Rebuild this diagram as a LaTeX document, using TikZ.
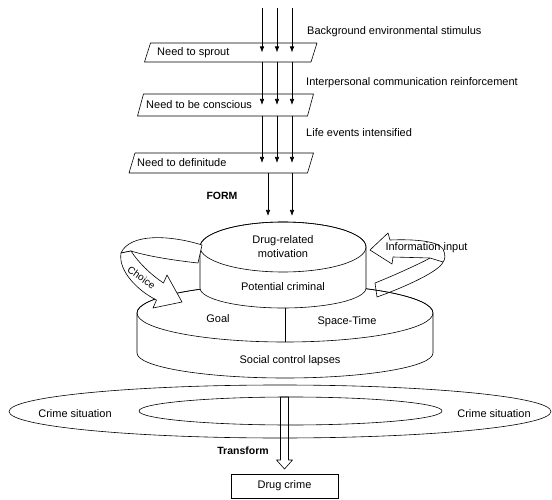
\documentclass[tikz,border=0pt]{standalone}
\usepackage{fontspec}
\setmainfont{Liberation Sans}
\usepackage{tikz}
\usetikzlibrary{shapes,positioning,calc,arrows.meta}

\tikzset{
  lbl/.style={font=\fontsize{11}{14}\selectfont, inner sep=0pt, align=center},
  boldlbl/.style={font=\fontsize{10.5}{12}\selectfont\bfseries, inner sep=0pt},
  flow/.style={-{Latex[length=6pt,width=4.5pt]}, line width=0.6pt},
  outline/.style={line width=0.6pt, line join=round},
  ribbon/.style={outline, fill=white},
}

\newcommand{\needBox}[4]{%
  % #1 the name of the node
  % #2 centre of the box
  % #3 width (e.g., 170pt)
  % #4 height (e.g., 20pt)
  \node[minimum width=#3, minimum height=#4, inner sep=0pt, outer sep=0pt] (#1) at #2 {};
  \draw[outline] ([xshift=3pt]#1.north west) -- ([xshift=3pt]#1.north east)
    -- ([xshift=-3pt]#1.south east) -- ([xshift=-3pt]#1.south west) -- cycle;
}

\begin{document}
\begin{tikzpicture}[x=1pt,y=1pt]
  \useasboundingbox (0,0) rectangle (552,499);

  % the needs, one under the other
  \needBox{sprout}{(230.75,446.5)}{166.5pt}{19pt}
  \needBox{conscious}{(225.5,394)}{170pt}{22pt}
  \needBox{definite}{(221.25,336)}{178.5pt}{20pt}
  \node[lbl, anchor=west] (sproutText) at ([xshift=9.5pt]sprout.west) {Need to sprout};
  \node[lbl, anchor=west] (consciousText) at ([xshift=5.5pt]conscious.west) {Need to be conscious};
  \node[lbl, anchor=west] (definiteText) at ([xshift=5pt]definite.west) {Need to definitude};

  \node[lbl, anchor=west] (stimulus) at (307,467) {Background environmental stimulus};
  \node[lbl, anchor=west] (reinforce) at (306,416) {Interpersonal communication reinforcement};
  \node[lbl, anchor=west] (events) at (306,366) {Life events intensified};

  \coordinate (in1) at (262,491);
  \coordinate (in2) at (277,491);
  \coordinate (in3) at (292,491);
  \foreach \c in {in1,in2,in3} {
    \draw[flow] (\c) -- (\c |- sprout.center);
    \draw[flow] (\c |- sprout.south) -- (\c |- conscious.center);
    \draw[flow] (\c |- conscious.south) -- (\c |- definite.center);
  }

  \node[boldlbl] (form) at (222,303) {FORM};
  \coordinate (form1) at (268,283);
  \coordinate (form2) at (292,283);
  \draw[flow] (form1 |- definite.south) -- (form1);
  \draw[flow] (form2 |- definite.south) -- (form2);

  % social control layer
  \filldraw[outline, fill=white] (137,186) -- (137,146)
    arc[start angle=180, end angle=360, x radius=148, y radius=25]
    -- (433,186) arc[start angle=0, end angle=180, x radius=148, y radius=29] -- cycle;
  \draw[outline] (285,186) ellipse [x radius=148, y radius=29];

  % motivation layer
  \filldraw[outline, fill=white] (200,252) -- (200,211)
    arc[start angle=180, end angle=360, x radius=83, y radius=20]
    -- (366,252) arc[start angle=0, end angle=180, x radius=83, y radius=25] -- cycle;
  \draw[outline] (283,252) ellipse [x radius=83, y radius=25];
  \draw[outline] (285,191) -- (285,157);

  \node[lbl] (motive) at (283,252.5) {Drug-related\\motivation};
  \node[lbl] (potential) at (283,212) {Potential criminal};
  \node[lbl] (goal) at (218,180) {Goal};
  \node[lbl] (spacetime) at (347,177) {Space-Time};
  \node[lbl] (lapses) at (290,138) {Social control lapses};

  % choice ribbon (left)
  \draw[ribbon] (202,254) .. controls (170,264) and (130,266) .. (121,246)
    -- (131,248) .. controls (150,242) and (180,238) .. (198,236) -- cycle;
  \draw[ribbon] (121,246) .. controls (118,228) and (138,208) .. (156.5,199)
    -- (153,191) -- (182,197) -- (167,224) -- (163.5,216)
    .. controls (150,225) and (138,237) .. (131,248) -- cycle;
  \node[lbl, font=\fontsize{10}{12}\selectfont, rotate=-35] (choice) at (141.5,221.5) {Choice};

  % information ribbon (right)
  \draw[outline] (443,237) .. controls (440,228) and (405,212) .. (377,202)
    -- (375,216) .. controls (400,226) and (425,238) .. (430,241);
  \draw[ribbon] (370,249) -- (388,266) -- (390,259)
    .. controls (415,260) and (438,258) .. (443,250)
    .. controls (446,244) and (445,239) .. (443,237)
    -- (430,241) -- (393,242) -- (392,235) -- cycle;
  \node[lbl] (info) at (426.5,251) {Information input};

  % crime situation
  \node[ellipse, draw, line width=0.6pt, minimum width=542pt, minimum height=53pt,
    inner sep=0pt, outer sep=0pt] (outer) at (280,87.5) {};
  \node[ellipse, draw, line width=0.6pt, minimum width=303pt, minimum height=28pt,
    inner sep=0pt, outer sep=0pt] (situ) at (290.5,88) {};
  \node[lbl] (situLeft) at (75,85) {Crime situation};
  \node[lbl] (situRight) at (494,85) {Crime situation};

  \node[draw, line width=0.6pt, minimum width=107pt, minimum height=24pt,
    inner sep=0pt, outer sep=0pt, font=\fontsize{11}{13}\selectfont] (drug) at (284.5,13) {Drug crime};
  \draw[outline] ($(drug.north |- situ.north)+(-4,0)$) -- ($(drug.north)+(-4,14)$)
    -- ++(-4,0) -- ($(drug.north)+(0,5)$) -- ($(drug.north)+(8,14)$) -- ++(-4,0)
    -- ($(drug.north |- situ.north)+(4,0)$) -- cycle;
  \node[boldlbl] (transform) at (243,48) {Transform};
\end{tikzpicture}
\end{document}
